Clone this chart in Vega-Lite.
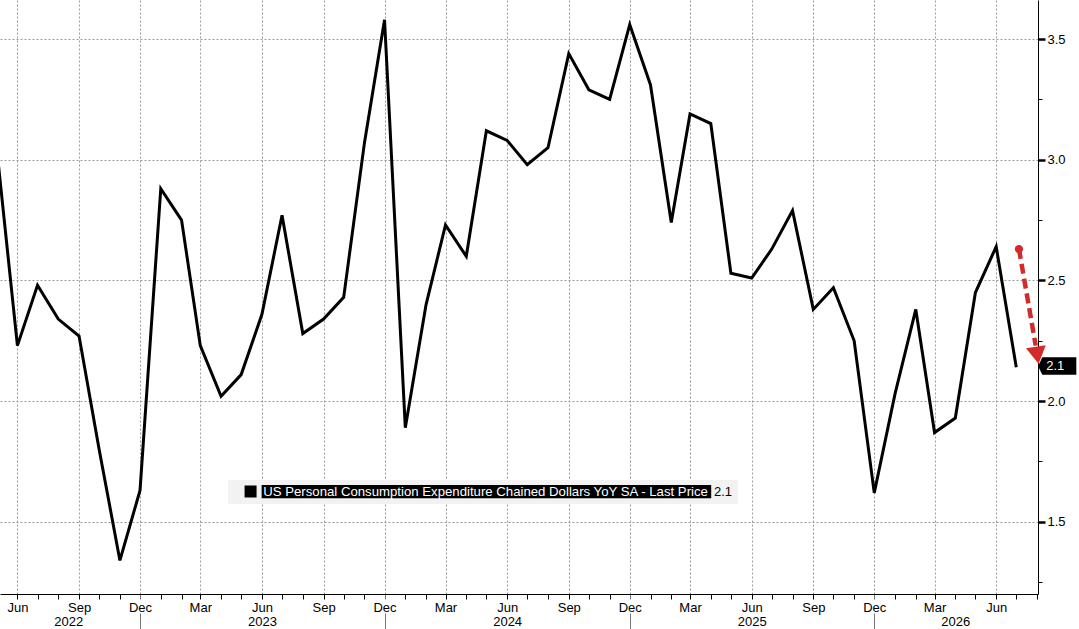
{
  "$schema": "https://vega.github.io/schema/vega-lite/v6.json",
  "width": 1038,
  "height": 594,
  "autosize": {"type": "none"},
  "padding": {"left": 0, "top": 0, "right": 41, "bottom": 35},
  "background": "white",
  "config": {"view": {"stroke": null}, "font": "Liberation Sans"},
  "datasets": {
    "pce": [
      {"date": "2022-05-01", "value": 3.05},
      {"date": "2022-06-01", "value": 2.23},
      {"date": "2022-07-01", "value": 2.48},
      {"date": "2022-08-01", "value": 2.34},
      {"date": "2022-09-01", "value": 2.27},
      {"date": "2022-10-01", "value": 1.80},
      {"date": "2022-11-01", "value": 1.34},
      {"date": "2022-12-01", "value": 1.63},
      {"date": "2023-01-01", "value": 2.88},
      {"date": "2023-02-01", "value": 2.75},
      {"date": "2023-03-01", "value": 2.23},
      {"date": "2023-04-01", "value": 2.02},
      {"date": "2023-05-01", "value": 2.11},
      {"date": "2023-06-01", "value": 2.36},
      {"date": "2023-07-01", "value": 2.77},
      {"date": "2023-08-01", "value": 2.28},
      {"date": "2023-09-01", "value": 2.34},
      {"date": "2023-10-01", "value": 2.43},
      {"date": "2023-11-01", "value": 3.07},
      {"date": "2023-12-01", "value": 3.58},
      {"date": "2024-01-01", "value": 1.89},
      {"date": "2024-02-01", "value": 2.40},
      {"date": "2024-03-01", "value": 2.73},
      {"date": "2024-04-01", "value": 2.60},
      {"date": "2024-05-01", "value": 3.12},
      {"date": "2024-06-01", "value": 3.08},
      {"date": "2024-07-01", "value": 2.98},
      {"date": "2024-08-01", "value": 3.05},
      {"date": "2024-09-01", "value": 3.44},
      {"date": "2024-10-01", "value": 3.29},
      {"date": "2024-11-01", "value": 3.25},
      {"date": "2024-12-01", "value": 3.56},
      {"date": "2025-01-01", "value": 3.31},
      {"date": "2025-02-01", "value": 2.74},
      {"date": "2025-03-01", "value": 3.19},
      {"date": "2025-04-01", "value": 3.15},
      {"date": "2025-05-01", "value": 2.53},
      {"date": "2025-06-01", "value": 2.51},
      {"date": "2025-07-01", "value": 2.63},
      {"date": "2025-08-01", "value": 2.79},
      {"date": "2025-09-01", "value": 2.38},
      {"date": "2025-10-01", "value": 2.47},
      {"date": "2025-11-01", "value": 2.25},
      {"date": "2025-12-01", "value": 1.62},
      {"date": "2026-01-01", "value": 2.03},
      {"date": "2026-02-01", "value": 2.38},
      {"date": "2026-03-01", "value": 1.87},
      {"date": "2026-04-01", "value": 1.93},
      {"date": "2026-05-01", "value": 2.45},
      {"date": "2026-06-01", "value": 2.64},
      {"date": "2026-07-01", "value": 2.14}
    ],
    "arrow": [
      {"date": "2026-07-05T00:00:00Z", "value": 2.63, "part": "tail"},
      {"date": "2026-07-30T00:00:00Z", "value": 2.23, "part": "shaft"},
      {"date": "2026-08-01T06:00:00Z", "value": 2.19, "part": "head"}
    ],
    "last": [
      {"date": "2026-07-01", "value": 2.14, "label": "2.1"}
    ]
  },
  "layer": [
    {
      "data": {"name": "pce"},
      "mark": {"type": "line", "clip": true, "strokeWidth": 3, "strokeJoin": "miter"},
      "encoding": {
        "x": {
          "field": "date",
          "type": "temporal",
          "scale": {
            "type": "utc",
            "nice": false,
            "domain": [
              {"year": 2022, "month": "may", "date": 6, "utc": true},
              {"year": 2026, "month": "aug", "date": 2, "hours": 10, "utc": true}
            ]
          },
          "axis": {
            "orient": "bottom",
            "title": null,
            "tickCount": {"interval": "month", "step": 1},
            "labelExpr": "utcmonth(datum.value)==5 && utcyear(datum.value)>=2023 && utcyear(datum.value)<=2025 ? ['Jun', utcFormat(datum.value,'%Y')] : (utcmonth(datum.value)==7 && utcyear(datum.value)==2022 ? ['', '2022'] : (utcmonth(datum.value)==3 && utcyear(datum.value)==2026 ? ['', '2026'] : (utcmonth(datum.value)%3==2 ? utcFormat(datum.value,'%b') : '')))",
            "labelOffset": {"condition": {"test": "utcyear(datum.value)==2022 && utcmonth(datum.value)==7", "value": 10}, "value": 0},
            "labelPadding": {"condition": {"test": "utcmonth(datum.value)==11", "value": -28}, "value": 2},
            "labelOverlap": false,
            "labelFlush": false,
            "labelBound": false,
            "labelFontSize": 13,
            "labelColor": "black",
            "labelBaseline": "top",
            "labelLineHeight": 14,
            "domainColor": "black",
            "domainWidth": 1,
            "tickColor": {"condition": {"test": "utcmonth(datum.value)==11", "value": "#777777"}, "value": "black"},
            "tickSize": {"condition": {"test": "utcmonth(datum.value)==11", "value": 35}, "value": 5},
            "tickDash": {"condition": {"test": "utcmonth(datum.value)==11", "value": [5, 14, 20]}, "value": []},
            "grid": true,
            "gridColor": "#9a9a9a",
            "gridDash": [2, 2],
            "gridOpacity": {"condition": {"test": "utcmonth(datum.value)%3==2", "value": 1}, "value": 0}
          }
        },
        "y": {
          "field": "value",
          "type": "quantitative",
          "scale": {"domain": [1.201, 3.662], "zero": false, "nice": false},
          "axis": {
            "orient": "right",
            "title": null,
            "values": [1.25, 1.5, 1.75, 2, 2.25, 2.5, 2.75, 3, 3.25, 3.5],
            "labelExpr": "datum.value*2 == floor(datum.value*2) ? format(datum.value, '.1f') : ''",
            "labelFontSize": 13,
            "labelColor": "black",
            "labelPadding": 2,
            "labelBaseline": "middle",
            "domainColor": "black",
            "domainWidth": 1,
            "tickColor": "black",
            "tickSize": {"condition": {"test": "datum.value*2 == floor(datum.value*2)", "value": 7}, "value": 4},
            "tickWidth": {"condition": {"test": "datum.value*2 == floor(datum.value*2)", "value": 2.5}, "value": 1},
            "grid": true,
            "gridColor": "#9a9a9a",
            "gridDash": [2, 2],
            "gridOpacity": {"condition": {"test": "datum.value*2 == floor(datum.value*2)", "value": 1}, "value": 0}
          }
        },
        "color": {
          "datum": "US Personal Consumption Expenditure Chained Dollars YoY SA - Last Price",
          "scale": {"range": ["black"]},
          "legend": {
            "orient": "none",
            "legendX": 228,
            "legendY": 480,
            "title": "2.1",
            "titleOrient": "right",
            "titleFontWeight": "normal",
            "titleFontSize": 13,
            "titleColor": "black",
            "titlePadding": 3,
            "fillColor": "#f2f2f2",
            "padding": 5,
            "symbolType": "M0.83,-1H2.83V1H0.83Z M3.67,-1.1H78.6V1.1H3.67Z",
            "symbolSize": 144,
            "labelColor": "white",
            "labelFontSize": 13.2,
            "labelOffset": 17,
            "labelLimit": 1000,
            "encode": {
              "symbols": {
                "update": {
                  "fill": {"value": "black"},
                  "stroke": {"value": "transparent"},
                  "strokeWidth": {"value": 0}
                }
              }
            }
          }
        }
      }
    },
    {
      "data": {"name": "arrow"},
      "transform": [{"filter": "datum.part != 'head'"}],
      "mark": {"type": "line", "color": "#d42a2a", "strokeWidth": 4.5, "strokeDash": [10, 5], "strokeCap": "butt"},
      "encoding": {
        "x": {"field": "date", "type": "temporal"},
        "y": {"field": "value", "type": "quantitative"}
      }
    },
    {
      "data": {"name": "arrow"},
      "transform": [{"filter": "datum.part == 'tail'"}],
      "mark": {"type": "point", "shape": "circle", "filled": true, "size": 70, "color": "#d42a2a", "opacity": 1},
      "encoding": {
        "x": {"field": "date", "type": "temporal"},
        "y": {"field": "value", "type": "quantitative"}
      }
    },
    {
      "data": {"name": "arrow"},
      "transform": [{"filter": "datum.part == 'head'"}],
      "mark": {"type": "point", "shape": "triangle-down", "filled": true, "size": 400, "angle": -9, "color": "#d42a2a", "opacity": 1},
      "encoding": {
        "x": {"field": "date", "type": "temporal"},
        "y": {"field": "value", "type": "quantitative"}
      }
    },
    {
      "data": {"name": "last"},
      "mark": {"type": "point", "shape": "M2.19,-0.1 L2.6,-1.0 L6.0,-1.0 L6.0,0.75 L2.6,0.75 Z", "filled": true, "size": 400, "color": "black", "opacity": 1},
      "encoding": {
        "x": {"field": "date", "type": "temporal"},
        "y": {"field": "value", "type": "quantitative"}
      }
    },
    {
      "data": {"name": "last"},
      "mark": {"type": "text", "color": "white", "fontSize": 13, "align": "left", "baseline": "middle", "dx": 30, "dy": -1},
      "encoding": {
        "x": {"field": "date", "type": "temporal"},
        "y": {"field": "value", "type": "quantitative"},
        "text": {"field": "label"}
      }
    }
  ]
}
